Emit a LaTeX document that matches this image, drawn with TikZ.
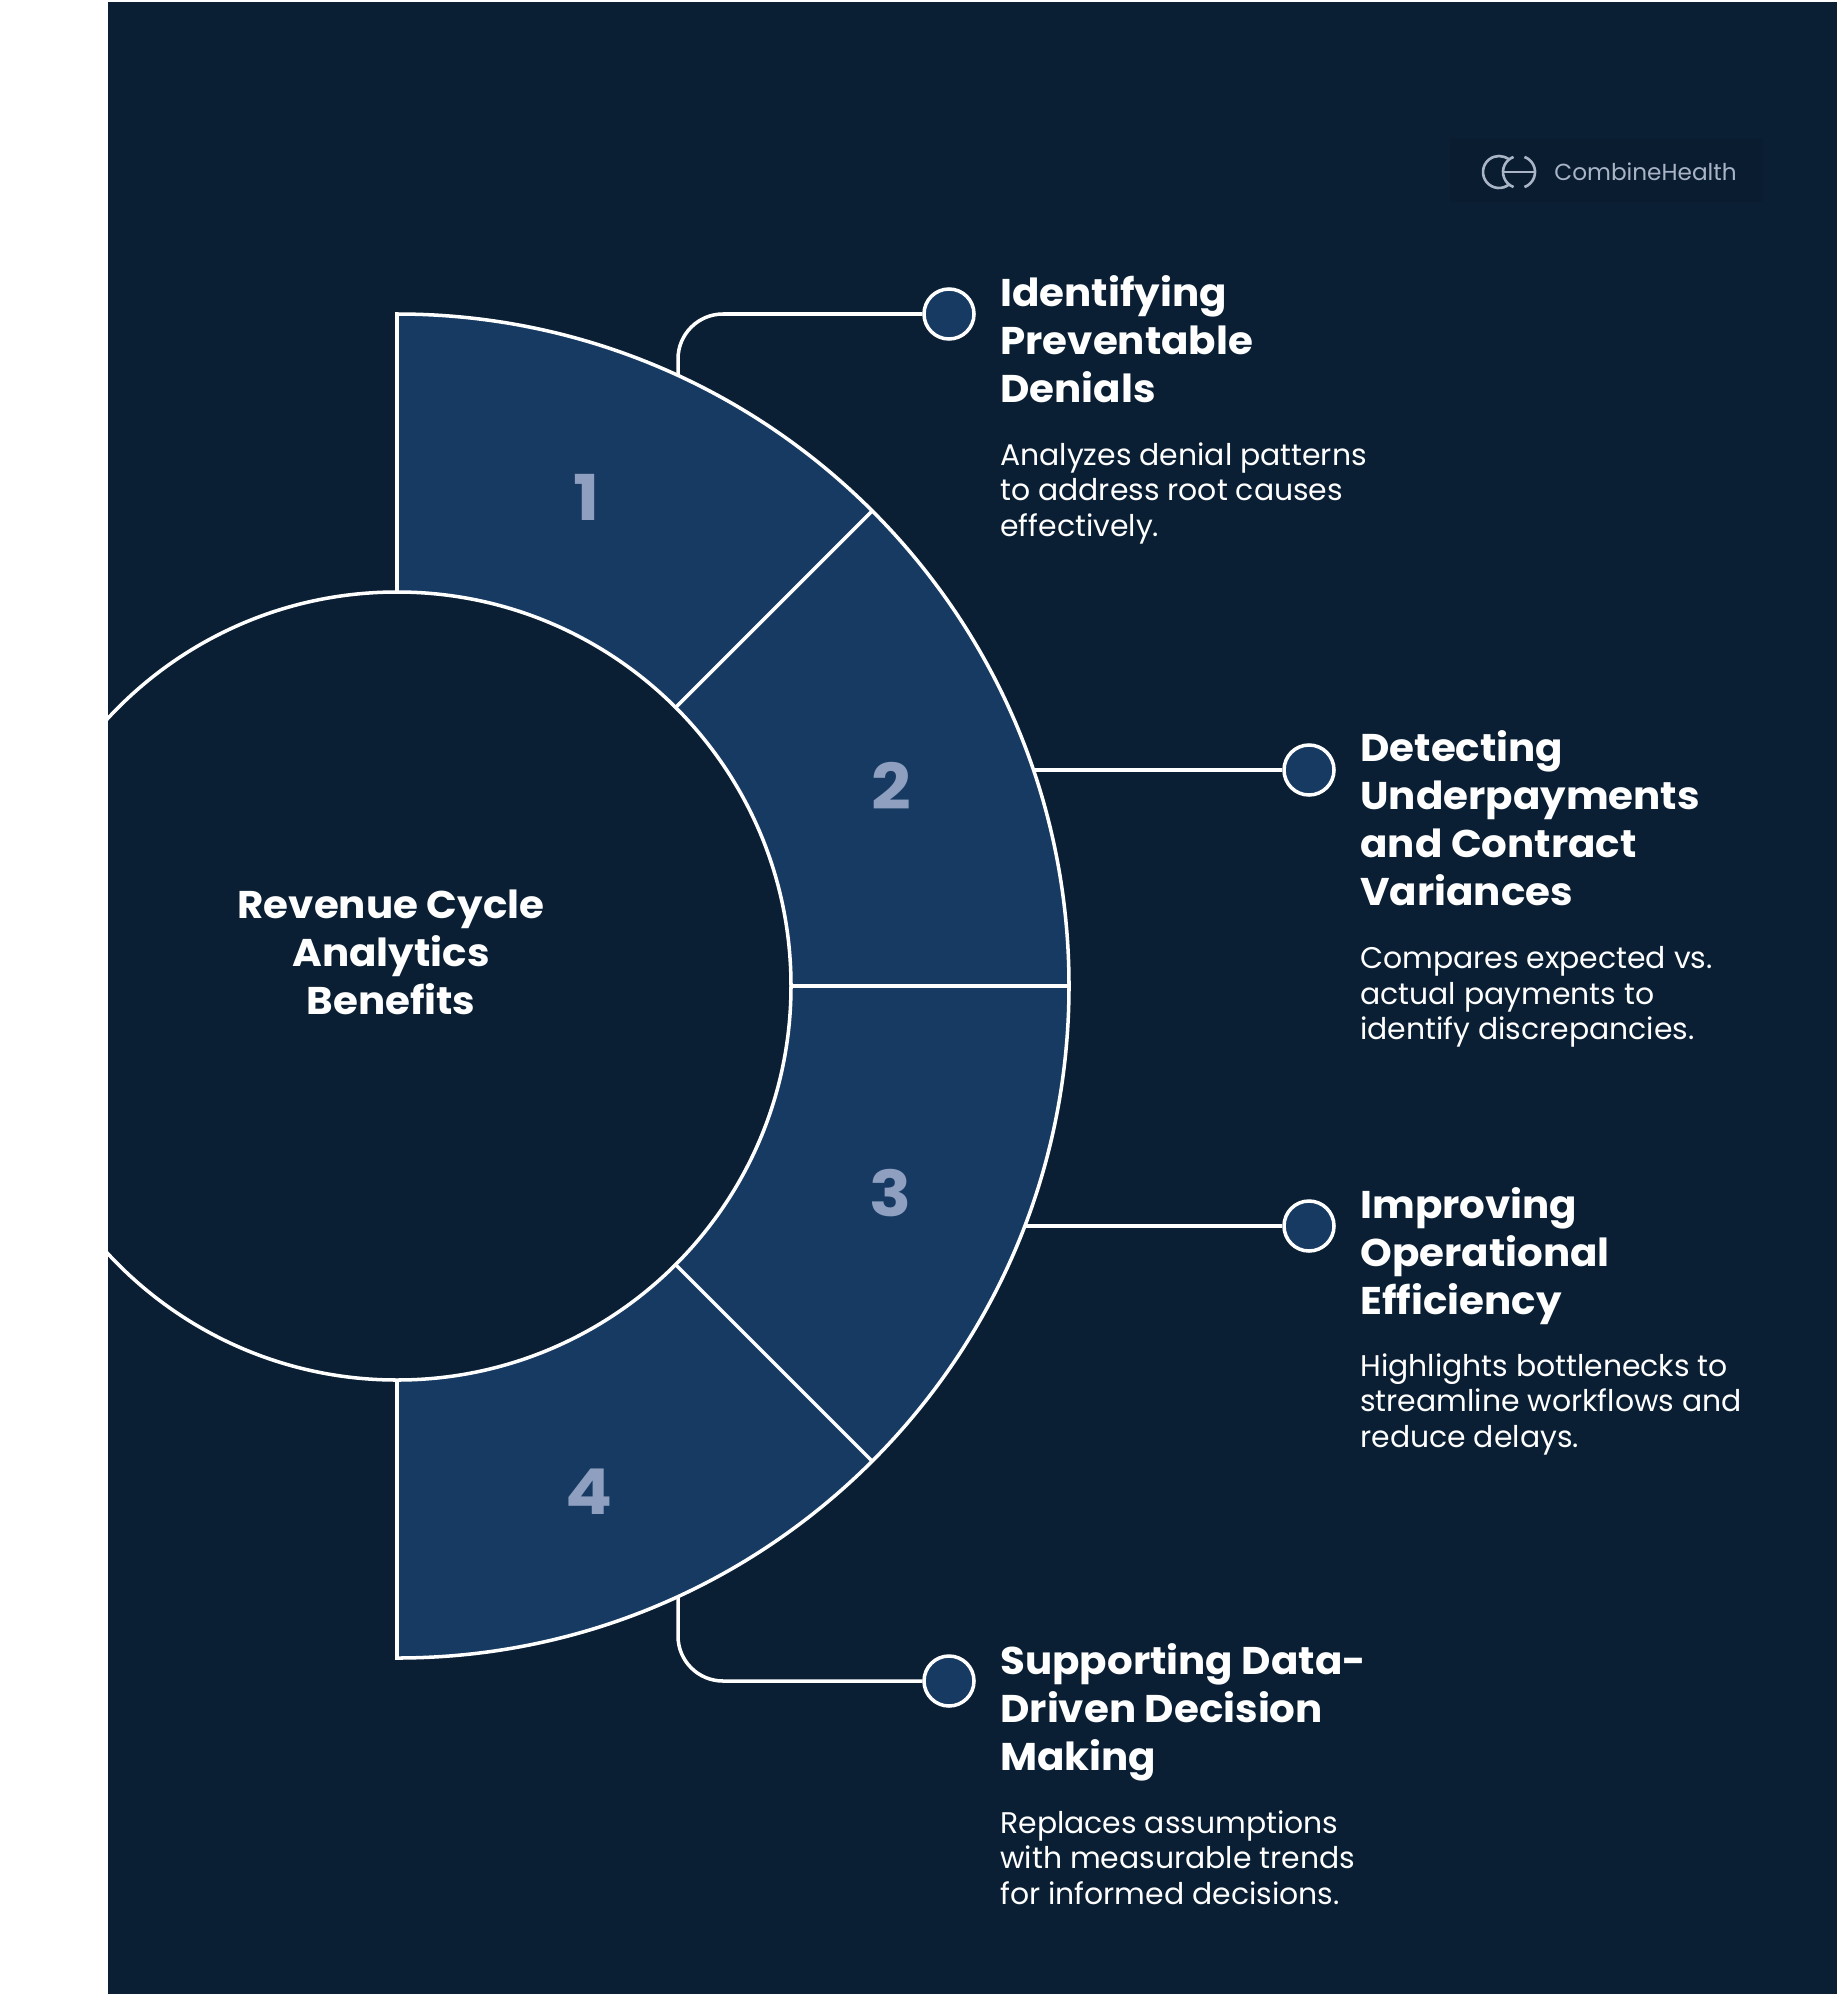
\documentclass[tikz,border=0pt]{standalone}
\usepackage{fontspec}
\setmainfont{Poppins}
\newfontfamily\headfont[FakeStretch=1.045]{Poppins}
\newfontfamily\digitfont[FakeStretch=1.1]{Poppins}
\usetikzlibrary{calc}
\definecolor{panelbg}{HTML}{0A1F34}
\definecolor{platebg}{HTML}{0A1C30}
\definecolor{sectorblue}{HTML}{173A63}
\definecolor{digitcol}{HTML}{8E9FBF}
\definecolor{logocol}{HTML}{A9B4C6}
\tikzset{
  x=0.02cm,y=-0.02cm,
  wline/.style={draw=white,line width=2pt},
  heading/.style={text=white,inner sep=0pt,anchor=north west,align=left,font=\headfont\bfseries\fontsize{22}{27.3}\selectfont},
  desc/.style={text=white,inner sep=0pt,anchor=north west,align=left,font=\fontsize{17}{20.3}\selectfont},
  digit/.style={text=digitcol,inner sep=0pt,font=\digitfont\bfseries\fontsize{36}{40}\selectfont},
  dot/.style={circle,draw=white,line width=2pt,fill=sectorblue,minimum size=50*0.02cm,inner sep=0pt},
  centertext/.style={text=white,inner sep=0pt,align=center,font=\headfont\bfseries\fontsize{22}{27.3}\selectfont},
}
\begin{document}
\begin{tikzpicture}
\useasboundingbox[fill=white] (0,0) rectangle (1837,1994);
\fill[panelbg] (108,2) rectangle (1837,1994);
\coordinate (c) at (397,986);
% logo plate
\fill[platebg] (1450,138) rectangle (1763,202);
\draw[logocol,line width=1.5pt] (1499,172) ++(50:16) arc[start angle=50,end angle=310,radius=16];
\draw[logocol,line width=1.5pt] (1519,172) ++(-110:16) arc[start angle=-110,end angle=-250,radius=16];
\draw[logocol,line width=1.5pt] (1519,172) ++(-70:16) arc[start angle=-70,end angle=70,radius=16];
\draw[logocol,line width=1.2pt] (1503,172) -- (1535,172);
\node[text=logocol,inner sep=0pt,anchor=west,font=\fontsize{13.2}{16}\selectfont] (logotext) at (1554,172) {CombineHealth};
% dots and connector ends
\node[dot] (d1) at (949,314) {};
\node[dot] (d2) at (1309,770) {};
\node[dot] (d3) at (1309,1226) {};
\node[dot] (d4) at (949,1681) {};
\coordinate (e1) at (678,376);
\coordinate (e2) at (1032,770);
\coordinate (e3) at (1024,1226);
\coordinate (e4) at (678,1596);
\draw[wline,rounded corners=45*0.02cm] (e1) |- (d1);
\draw[wline] (e2) -- (d2);
\draw[wline] (e3) -- (d3);
\draw[wline,rounded corners=45*0.02cm] (e4) |- (d4);
% half ring
\draw[wline,fill=sectorblue,line join=miter] (c) ++(-90:672) arc[start angle=-90,end angle=90,radius=672] -- cycle;
\begin{scope}
\clip (108,2) rectangle (1837,1994);
\draw[wline,fill=panelbg] (c) circle[radius=394];
\end{scope}
\foreach \a in {-45,0,45}{
  \draw[wline] (c) ++(\a:394) -- ++(\a:278);
}
\node[digit] (n1) at (587,497) {1};
\node[digit] (n2) at (891,786) {2};
\node[digit] (n3) at (891,1193) {3};
\node[digit] (n4) at (589,1492) {4};
\node[centertext] (title) at (391,952) {Revenue Cycle\\Analytics\\Benefits};
\node[heading] (h1) at (1000,275) {Identifying\\Preventable\\Denials};
\node[desc] (t1) at (1000,442) {Analyzes denial patterns\\to address root causes\\effectively.};
\node[heading] (h2) at (1360,730) {Detecting\\Underpayments\\and Contract\\Variances};
\node[desc] (t2) at (1360,946) {Compares expected vs.\\actual payments to\\identify discrepancies.};
\node[heading] (h3) at (1360,1187) {Improving\\Operational\\Efficiency};
\node[desc] (t3) at (1360,1353) {Highlights bottlenecks to\\streamline workflows and\\reduce delays.};
\node[heading] (h4) at (1000,1643) {Supporting Data-\\Driven Decision\\Making};
\node[desc] (t4) at (1000,1810) {Replaces assumptions\\with measurable trends\\for informed decisions.};
\end{tikzpicture}
\end{document}
